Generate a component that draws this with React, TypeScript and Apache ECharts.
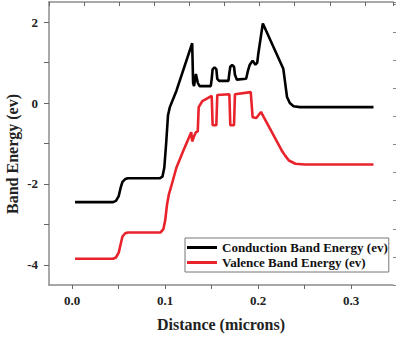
import React, { useEffect, useRef } from "react";
import * as echarts from "echarts";

const FONT = '"Liberation Serif", "Times New Roman", serif';

const seriesNames = ["Conduction Band Energy (ev)", "Valence Band Energy (ev)"];
const seriesColors = ["#000000", "#e8232b"];

const xTickValues = [0, 0.05, 0.1, 0.15, 0.2, 0.25, 0.3];
const xLabelValues = [0, 0.1, 0.2, 0.3];
const yTickValues = [-4, -3, -2, -1, 0, 1, 2];
const yLabelValues = [-4, -2, 0, 2];

const conduction: [number, number][] = [
  [0.003, -2.45], [0.044, -2.45], [0.047, -2.42], [0.05, -2.3], [0.052, -2.1],
  [0.054, -1.95], [0.057, -1.88], [0.06, -1.86], [0.094, -1.86], [0.097, -1.82],
  [0.099, -1.6], [0.101, -1.0], [0.103, -0.3], [0.105, -0.1], [0.112, 0.3],
  [0.129, 1.48], [0.13, 0.5], [0.131, 0.42], [0.133, 0.72], [0.135, 0.5],
  [0.137, 0.42], [0.149, 0.42], [0.15, 0.6], [0.151, 0.84], [0.153, 0.88],
  [0.155, 0.84], [0.156, 0.6], [0.158, 0.55], [0.168, 0.55], [0.169, 0.75],
  [0.17, 0.9], [0.172, 0.94], [0.174, 0.9], [0.175, 0.7], [0.177, 0.58],
  [0.187, 0.6], [0.189, 0.8], [0.191, 0.95], [0.194, 1.05], [0.197, 0.95],
  [0.199, 1.0], [0.2, 1.2], [0.205, 1.97], [0.227, 0.85], [0.229, 0.5],
  [0.231, 0.15], [0.234, 0.0], [0.238, -0.08], [0.245, -0.1], [0.324, -0.1],
];

const valence: [number, number][] = [
  [0.003, -3.85], [0.044, -3.85], [0.047, -3.82], [0.05, -3.7], [0.052, -3.5],
  [0.054, -3.3], [0.057, -3.22], [0.06, -3.2], [0.095, -3.2], [0.098, -3.12],
  [0.1, -2.9], [0.102, -2.5], [0.104, -2.25], [0.106, -2.1], [0.112, -1.6],
  [0.12, -1.15], [0.128, -0.72], [0.129, -0.95], [0.131, -0.82], [0.133, -0.72],
  [0.135, -0.7], [0.136, -0.1], [0.14, 0.05], [0.15, 0.18], [0.151, -0.55],
  [0.155, -0.55], [0.156, 0.2], [0.169, 0.22], [0.17, -0.55], [0.174, -0.55],
  [0.175, 0.22], [0.192, 0.27], [0.194, -0.35], [0.198, -0.37], [0.203, -0.22],
  [0.206, -0.35], [0.226, -1.2], [0.229, -1.3], [0.233, -1.42], [0.24, -1.5],
  [0.25, -1.52], [0.324, -1.52],
];

const axisColor = "#8c8c8c";
const labelStyle = {
  fontFamily: FONT,
  fontWeight: "bold" as const,
  fontSize: 13,
  color: "#222",
};

export default function App() {
  const ref = useRef<HTMLDivElement>(null);

  useEffect(() => {
    if (!ref.current) return;
    const chart = echarts.init(ref.current, null, { renderer: "svg" });
    chart.setOption({
      animation: false,
      backgroundColor: "#ffffff",
      grid: { left: 49, top: 2, right: 4, bottom: 54, containLabel: false },
      legend: {
        orient: "vertical",
        left: 185,
        top: 238,
        icon: "rect",
        itemWidth: 30,
        itemHeight: 3,
        itemGap: 2,
        padding: [3, 1, 3, 2],
        borderColor: "#777",
        borderWidth: 1,
        backgroundColor: "#fff",
        textStyle: { ...labelStyle, color: "#111" },
        data: seriesNames,
      },
      graphic: [
        {
          type: "text",
          x: 12,
          y: 154,
          rotation: Math.PI / 2,
          style: {
            text: "Band Energy (ev)",
            textAlign: "center",
            textVerticalAlign: "middle",
            font: `bold 16px ${FONT}`,
            fill: "#222",
          },
        },
      ],
      xAxis: [
        {
          type: "value",
          min: -0.025,
          max: 0.345,
          name: "Distance (microns)",
          nameLocation: "middle",
          nameGap: 31,
          nameTextStyle: { fontFamily: FONT, fontWeight: "bold", fontSize: 16, color: "#222" },
          axisLine: { show: true, onZero: false, lineStyle: { color: axisColor, width: 1.5 } },
          axisTick: {
            show: true,
            inside: false,
            length: 4,
            customValues: xTickValues,
            lineStyle: { color: "#666", width: 1 },
          },
          axisLabel: {
            margin: 9,
            customValues: xLabelValues,
            formatter: (v: number) => v.toFixed(1),
            ...labelStyle,
          },
          splitLine: { show: false },
        },
        {
          type: "value",
          position: "top",
          min: 0,
          max: 344 / 35.1,
          interval: 1,
          axisLine: { show: true, onZero: false, lineStyle: { color: axisColor, width: 1.5 } },
          axisTick: { show: true, inside: true, length: 4, lineStyle: { color: "#666", width: 1 } },
          axisLabel: { show: false },
          splitLine: { show: false },
        },
      ],
      yAxis: [
        {
          type: "value",
          min: -4.5,
          max: 2.5,
          axisLine: { show: true, onZero: false, lineStyle: { color: axisColor, width: 1.5 } },
          axisTick: {
            show: true,
            inside: false,
            length: 5,
            customValues: yTickValues,
            lineStyle: { color: "#666", width: 1 },
          },
          axisLabel: {
            margin: 11,
            customValues: yLabelValues,
            formatter: (v: number) => String(v),
            ...labelStyle,
          },
          splitLine: { show: false },
        },
        {
          type: "value",
          position: "right",
          min: 0,
          max: 283 / 28.1,
          interval: 1,
          axisLine: { show: false, onZero: false },
          axisTick: { show: true, inside: false, length: 3, lineStyle: { color: "#888", width: 1 } },
          axisLabel: { show: false },
          splitLine: { show: false },
        },
      ],
      series: [
        {
          name: seriesNames[0],
          type: "line",
          data: conduction,
          showSymbol: false,
          symbol: "none",
          color: seriesColors[0],
          lineStyle: { color: seriesColors[0], width: 2.6 },
          z: 3,
        },
        {
          name: seriesNames[1],
          type: "line",
          data: valence,
          showSymbol: false,
          symbol: "none",
          color: seriesColors[1],
          lineStyle: { color: seriesColors[1], width: 2.6 },
          z: 2,
        },
      ],
    });
    return () => chart.dispose();
  }, []);

  return (
    <div
      ref={ref}
      style={{ position: "fixed", left: 0, top: 0, width: 397, height: 339 }}
    />
  );
}
